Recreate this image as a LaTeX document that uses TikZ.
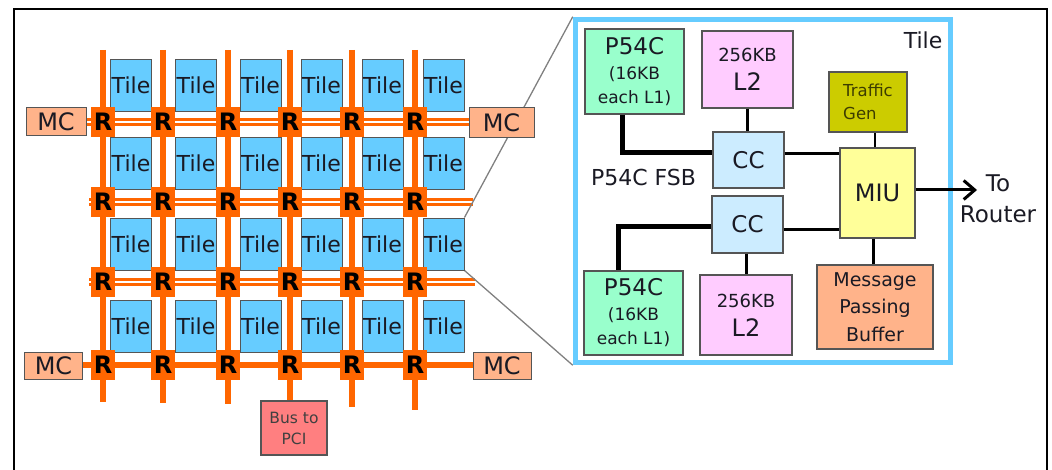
\documentclass[tikz,border=0pt]{standalone}
\usepackage{fontspec}
\setmainfont{DejaVu Sans}
\usetikzlibrary{arrows.meta,backgrounds}
\definecolor{tileblue}{HTML}{66CCFF}
\definecolor{wireorange}{HTML}{FF6600}
\definecolor{peach}{HTML}{FFB38A}
\definecolor{pcired}{HTML}{FF7F80}
\definecolor{pgreen}{HTML}{99FFCC}
\definecolor{lpink}{HTML}{FFCCFF}
\definecolor{ccblue}{HTML}{CCECFF}
\definecolor{miuyel}{HTML}{FFFF99}
\definecolor{tgolive}{HTML}{CCCC00}
\definecolor{bord}{HTML}{555555}
\definecolor{txtdark}{HTML}{1A1A24}
\begin{document}
\begin{tikzpicture}[x=1pt,y=-1pt,
  tile/.style={fill=tileblue, draw=bord, line width=0.9pt, minimum width=41pt, minimum height=52pt, inner sep=0pt, font=\fontsize{22}{24}\selectfont, text=txtdark},
  router/.style={fill=wireorange, minimum width=24pt, minimum height=30pt, inner sep=0pt, font=\fontsize{24}{24}\selectfont\bfseries, text=black},
  mc/.style={fill=peach, draw=bord, line width=1pt, minimum width=60pt, minimum height=28pt, inner sep=0pt, font=\fontsize{24}{24}\selectfont, text=txtdark},
  blk/.style={draw=bord, line width=1.1pt, inner sep=0pt, align=center, text=txtdark},
  wire/.style={draw=wireorange, line width=6pt},
  wired/.style={draw=wireorange, line width=3.2pt, double=white, double distance=1.8pt},
  zoomline/.style={draw=gray, line width=1.3pt},
  bus/.style={draw=black, line width=5pt},
  link/.style={draw=black, line width=3pt},
  thinlink/.style={draw=black, line width=2pt},
  lbl/.style={inner sep=0pt, align=center, text=txtdark}
]
\useasboundingbox (0,0) rectangle (1052,470);
\draw[line width=1.6pt] (14,470) -- (14,9) -- (1047,9) -- (1047,470);

% ---------- left: mesh ----------
\foreach \c/\x in {1/131,2/196,3/260.5,4/321.5,5/382.5,6/443.5}{
  \foreach \r/\y in {1/85,2/163.5,3/244,4/326.5}{
    \node[tile] (t\r\c) at (\x,\y) {Tile};
  }
}
\foreach \c/\x in {1/103,2/163,3/228,4/290,5/352,6/415}{
  \foreach \r/\y in {1/122,2/202,3/282,4/365}{
    \node[router] (r\r\c) at (\x,\y) {R};
  }
}
\node[mc] (mcl1) at (56,122) {MC};
\node[mc, minimum width=65pt, minimum height=30pt] (mcr1) at (501.5,122.5) {MC};
\node[mc, minimum width=58pt, minimum height=27pt] (mcl2) at (53.5,365.5) {MC};
\node[mc, minimum width=58pt, minimum height=27pt] (mcr2) at (502,365.5) {MC};
\node[blk, fill=pcired, minimum width=66pt, minimum height=54pt, font=\fontsize{15.5}{21}\selectfont, text={black!75}] (bus) at (294,428) {Bus to\\PCI};

% ---------- right: tile detail ----------
\node[draw=tileblue, line width=5.5pt, minimum width=375pt, minimum height=343pt, inner sep=0pt] (panel) at (763,191) {};
\node[lbl, font=\fontsize{22}{24}\selectfont] (tilelbl) at (923,40) {Tile};

\node[blk, fill=pgreen, minimum width=99pt, minimum height=85pt, font=\fontsize{17}{24}\selectfont] (p1) at (634.5,71.5)
  {{\fontsize{23}{24}\selectfont P54C}\\[1pt](16KB\\each L1)};
\node[blk, fill=lpink, minimum width=91pt, minimum height=77pt, font=\fontsize{18}{29}\selectfont] (l1) at (747.5,69.5)
  {256KB\\{\fontsize{24}{29}\selectfont L2}};
\node[blk, fill=tgolive, minimum width=78pt, minimum height=60pt, align=left, font=\fontsize{16.5}{23}\selectfont, text={black!70!tgolive}] (tg) at (868,102)
  {Traffic\\Gen};
\node[blk, fill=ccblue, minimum width=71pt, minimum height=56pt, font=\fontsize{23}{24}\selectfont] (cc1) at (748.5,160) {CC};
\node[blk, fill=miuyel, minimum width=75pt, minimum height=90pt, font=\fontsize{24}{24}\selectfont] (miu) at (877.5,193) {MIU};
\node[blk, fill=ccblue, minimum width=71pt, minimum height=57pt, font=\fontsize{23}{24}\selectfont] (cc2) at (747.5,224.5) {CC};
\node[blk, fill=pgreen, minimum width=99pt, minimum height=84pt, font=\fontsize{17}{24}\selectfont] (p2) at (633.5,313)
  {{\fontsize{23}{24}\selectfont P54C}\\[1pt](16KB\\each L1)};
\node[blk, fill=lpink, minimum width=92pt, minimum height=80pt, font=\fontsize{18}{29}\selectfont] (l2) at (746,315)
  {256KB\\{\fontsize{24}{29}\selectfont L2}};
\node[blk, fill=peach, minimum width=116pt, minimum height=84pt, font=\fontsize{19}{27.5}\selectfont] (mpb) at (875,307)
  {Message\\Passing\\Buffer};
\node[lbl, font=\fontsize{22}{24}\selectfont] (fsb) at (643.5,177) {P54C FSB};
\node[lbl, font=\fontsize{23}{31}\selectfont] (tor) at (998,199) {To\\Router};
\coordinate (tip) at (977,190);

% ---------- connectors ----------
\draw[bus] ([xshift=-12.5pt]p1.south) |- ([yshift=7pt]cc1.west);
\draw[bus] ([yshift=-2.5pt]cc2.west) -| ([xshift=-15.5pt]p2.north);
\draw[link] (l1.south) -- (l1.south |- cc1.north);
\draw[link] (l2.north |- cc2.south) -- (l2.north);
\draw[link] ([yshift=6pt]cc1.east) -- ([yshift=6pt]cc1.east -| miu.west);
\draw[link] ([yshift=-5pt]cc2.east) -- ([yshift=-5pt]cc2.east -| miu.west);
\draw[thinlink] ([xshift=-2.5pt]miu.north) -- ([xshift=-2.5pt]miu.north |- tg.south);
\draw[link] ([xshift=-4pt]miu.south) -- ([xshift=-4pt]miu.south |- mpb.north);
\draw[line width=3pt, -{Straight Barb[length=11pt,width=19pt,line width=3pt]}] (miu.east |- tip) -- (tip);

\begin{pgfonlayer}{background}
  \foreach \c/\x/\b in {1/103/402,2/163/403,3/228/404,5/352/407,6/415/410}{
    \coordinate (vt\c) at (\x,50);
    \coordinate (vb\c) at (\x,\b);
    \draw[wire] (vt\c) -- (r1\c) -- (r2\c) -- (r3\c) -- (r4\c) -- (vb\c);
  }
  \coordinate (vt4) at (290,50);
  \draw[wire] (vt4) -- (r14) -- (r24) -- (r34) -- (r44) -- (r44 |- bus.north);
  \draw[wired] (mcl1) -- (r11) -- (r12) -- (r13) -- (r14) -- (r15) -- (r16) -- (r16 -| mcr1.west);
  \coordinate (hl2) at (89,202); \coordinate (hr2) at (473,202);
  \coordinate (hl3) at (89,282); \coordinate (hr3) at (475,282);
  \draw[wired] (hl2) -- (r21) -- (r22) -- (r23) -- (r24) -- (r25) -- (r26) -- (hr2);
  \draw[wired] (hl3) -- (r31) -- (r32) -- (r33) -- (r34) -- (r35) -- (r36) -- (hr3);
  \draw[wire] (r41 -| mcl2.east) -- (r41) -- (r42) -- (r43) -- (r44) -- (r45) -- (r46) -- (r46 -| mcr2.west);
  \draw[zoomline] (t36.north east) -- (panel.north west);
  \draw[zoomline] (t36.south east) -- (panel.south west);
\end{pgfonlayer}
\end{tikzpicture}
\end{document}
